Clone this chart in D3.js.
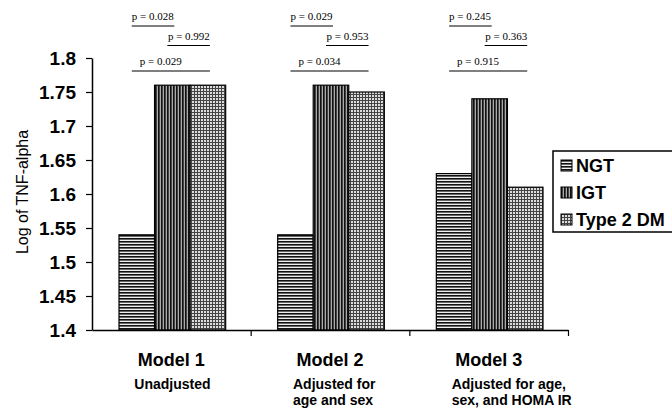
<!DOCTYPE html>
<html>
<head>
<meta charset="utf-8">
<script src="https://cdn.jsdelivr.net/npm/d3@7"></script>
<style>
  body { margin: 0; background: #fff; }
  svg { display: block; }
  .tickLbl { font-family: Arial, "Liberation Sans", sans-serif; font-weight: bold; font-size: 19px; }
  .pText { font-family: "Times New Roman", "Liberation Serif", serif; font-size: 11px; }
</style>
</head>
<body>
<svg id="chart" width="672" height="411"></svg>
<script>
// data
var models = ["Model 1", "Model 2", "Model 3"];
var subtitles = [["Unadjusted"], ["Adjusted for", "age and sex"], ["Adjusted for age,", "sex, and HOMA IR"]];
var groups = ["NGT", "IGT", "Type 2 DM"];
var ngtValues = [1.54, 1.54, 1.63];
var igtValues = [1.76, 1.76, 1.74];
var dmValues = [1.76, 1.75, 1.61];
var pNgtIgt = ["0.028", "0.029", "0.245"];
var pIgtDm = ["0.992", "0.953", "0.363"];
var pNgtDm = ["0.029", "0.034", "0.915"];
var yTicks = [1.4, 1.45, 1.5, 1.55, 1.6, 1.65, 1.7, 1.75, 1.8];

var margin = {top: 58, left: 92, right: 104, bottom: 81},
	width = 672 - margin.left - margin.right,
	height = 411 - margin.top - margin.bottom;

var svg = d3.select("#chart");

// fill patterns standing in for the scanned hatching
var defs = svg.append("defs");
var pNgt = defs.append("pattern").attr("id", "patNgt").attr("patternUnits", "userSpaceOnUse")
	.attr("width", 6).attr("height", 3);
pNgt.append("rect").attr("width", 6).attr("height", 3).attr("fill", "#eee");
pNgt.append("rect").attr("width", 6).attr("height", 1).attr("fill", "#111");
pNgt.append("rect").attr("y", 1).attr("width", 6).attr("height", 1).attr("fill", "#666");

var pIgt = defs.append("pattern").attr("id", "patIgt").attr("patternUnits", "userSpaceOnUse")
	.attr("width", 3).attr("height", 6);
pIgt.append("rect").attr("width", 3).attr("height", 6).attr("fill", "#aaa");
pIgt.append("rect").attr("width", 1).attr("height", 6).attr("fill", "#111");
pIgt.append("rect").attr("x", 1).attr("width", 1).attr("height", 6).attr("fill", "#444");

var pDm = defs.append("pattern").attr("id", "patDm").attr("patternUnits", "userSpaceOnUse")
	.attr("width", 3).attr("height", 3);
pDm.append("rect").attr("width", 3).attr("height", 3).attr("fill", "#ddd");
pDm.append("rect").attr("width", 3).attr("height", 1).attr("fill", "#444");
pDm.append("rect").attr("width", 1).attr("height", 3).attr("fill", "#444");

var fills = ["url(#patNgt)", "url(#patIgt)", "url(#patDm)"];

var g = svg.append("g").attr("transform", "translate(" + margin.left + "," + margin.top + ")");

var x = d3.scaleBand().domain(models).range([0, width]);
var x1 = d3.scaleBand().domain(groups).range([27, x.bandwidth() - 25]);
var xb = d3.scaleLinear().domain([0, models.length]).range([0, width]);
var y = d3.scaleLinear().domain([1.4, 1.8]).range([height, 0]);

var series = [ngtValues, igtValues, dmValues];
var rows = [];
models.forEach(function(m, i) {
	groups.forEach(function(s, j) {
		rows.push({model: m, group: s, idx: j, value: series[j][i]});
	});
});

// bars
g.selectAll(".bar")
	.data(rows)
	.enter().append("rect")
	.attr("class", "bar")
	.attr("x", function(d) { return x(d.model) + x1(d.group); })
	.attr("width", x1.bandwidth())
	.attr("y", function(d) { return y(d.value); })
	.attr("height", function(d) { return height - y(d.value); })
	.attr("fill", function(d) { return fills[d.idx]; })
	.attr("stroke", "#000")
	.attr("stroke-width", 1.2);

// y axis
var yAxis = g.append("g")
	.call(d3.axisLeft(y).tickValues(yTicks).tickSize(6).tickPadding(10).tickSizeOuter(0)
		.tickFormat(function(d) { return d3.format("")(+d.toFixed(2)); }));
yAxis.select(".domain").attr("stroke-width", 1.5);
yAxis.selectAll(".tick line").attr("stroke-width", 1.2);
yAxis.selectAll("text").attr("class", "tickLbl").attr("fill", "#000");

// x axis: ticks sit between models
var xAxis = g.append("g")
	.attr("transform", "translate(0," + height + ")")
	.call(d3.axisBottom(xb).tickValues(d3.range(1, models.length + 1)).tickFormat("").tickSize(6).tickSizeOuter(0));
xAxis.select(".domain").attr("stroke-width", 1.5);
xAxis.selectAll(".tick line").attr("stroke-width", 1.2);

// category labels
models.forEach(function(m, i) {
	var cx = x(m) + x.bandwidth() / 2;
	g.append("text")
		.attr("x", cx).attr("y", height + 36)
		.attr("text-anchor", "middle")
		.style("font-family", "Arial, 'Liberation Sans', sans-serif")
		.style("font-weight", "bold").style("font-size", "18px")
		.text(m);
	var t = g.append("text")
		.style("font-family", "Arial, 'Liberation Sans', sans-serif")
		.style("font-weight", "bold").style("font-size", "14px");
	subtitles[i].forEach(function(line, k) {
		t.append("tspan").attr("x", cx - 37).attr("y", height + 59 + k * 16).text(line);
	});
});

// y axis title
g.append("text")
	.attr("transform", "rotate(-90)")
	.attr("x", -(height / 2) + 2)
	.attr("y", -margin.left + 28)
	.attr("text-anchor", "middle")
	.style("font-family", "Arial, 'Liberation Sans', sans-serif")
	.style("font-size", "16px")
	.text("Log of TNF-alpha");

// p-value brackets
function centre(m, s) { return margin.left + x(m) + x1(s) + x1.bandwidth() / 2; }
var pRows = [
	{vals: pNgtIgt, a: "NGT", b: "IGT", lineY: 26, anchor: "start", off: 0},
	{vals: pIgtDm, a: "IGT", b: "Type 2 DM", lineY: 45.5, anchor: "end", off: 0},
	{vals: pNgtDm, a: "NGT", b: "Type 2 DM", lineY: 71, anchor: "start", off: 8}
];
pRows.forEach(function(r) {
	models.forEach(function(m, i) {
		var x0 = centre(m, r.a) - 5, x2 = centre(m, r.b) + 2;
		svg.append("line")
			.attr("x1", x0).attr("x2", x2)
			.attr("y1", r.lineY).attr("y2", r.lineY)
			.attr("stroke", "#000").attr("stroke-width", 1.1);
		svg.append("text")
			.attr("class", "pText")
			.attr("x", r.anchor === "end" ? x2 : x0 + r.off)
			.attr("y", r.lineY - 6)
			.attr("text-anchor", r.anchor)
			.text("p = " + r.vals[i]);
	});
});

// legend
var leg = svg.append("g").attr("transform", "translate(553,151)");
leg.append("rect").attr("width", 130).attr("height", 81)
	.attr("fill", "#fff").attr("stroke", "#000").attr("stroke-width", 1.5);
groups.forEach(function(s, j) {
	var row = leg.append("g").attr("transform", "translate(8," + (9 + j * 27) + ")");
	row.append("rect").attr("width", 11).attr("height", 11)
		.attr("fill", fills[j]).attr("stroke", "#000").attr("stroke-width", 1);
	row.append("text").attr("x", 15).attr("y", 12)
		.style("font-family", "Arial, 'Liberation Sans', sans-serif")
		.style("font-weight", "bold").style("font-size", "18px")
		.text(s);
});
</script>
</body>
</html>
